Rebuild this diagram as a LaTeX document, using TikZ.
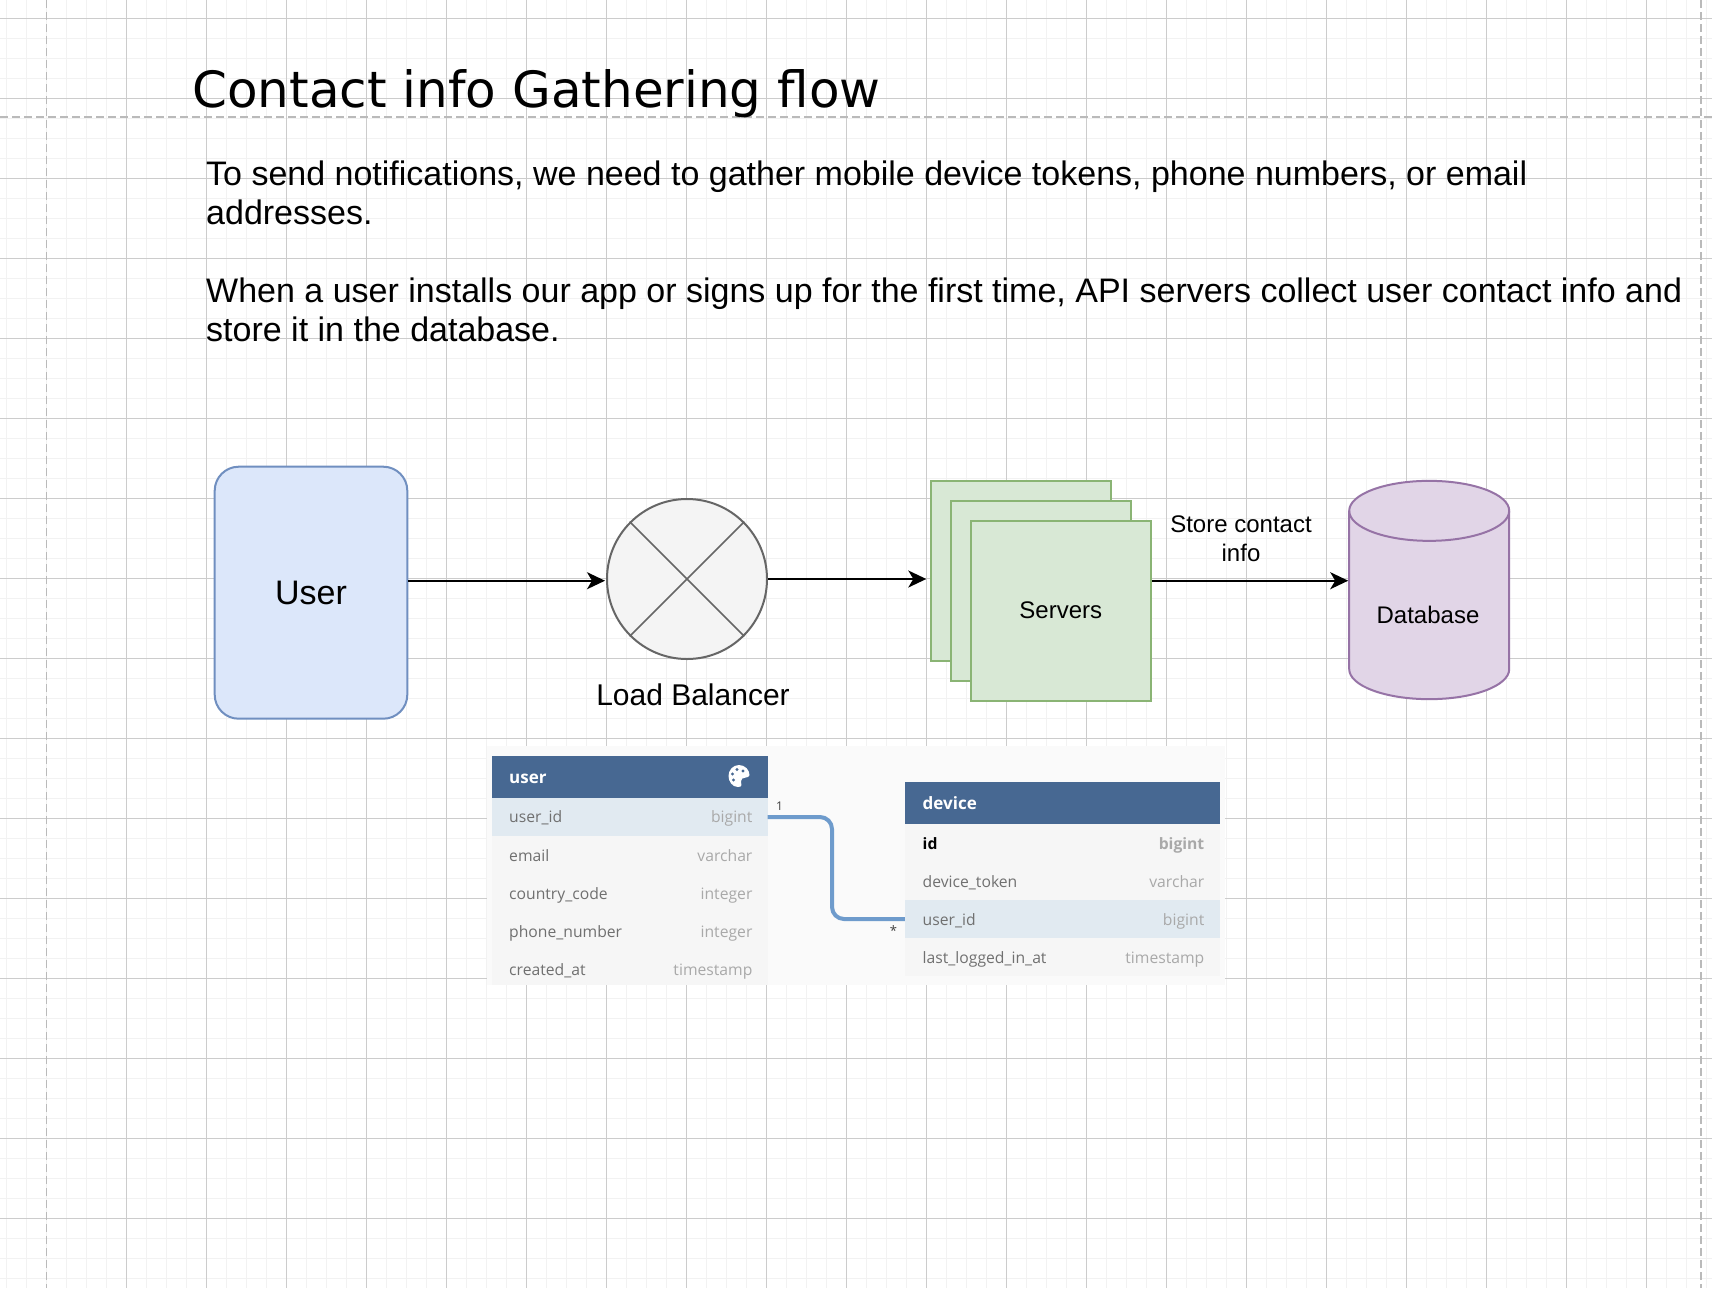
\documentclass[tikz,border=0pt]{standalone}
\usepackage{fontspec}
\setmainfont{Liberation Sans}
\newfontfamily\titlefont{DejaVu Sans}
\newfontfamily\tablefont{Open Sans}
\usetikzlibrary{arrows.meta}
\definecolor{userfill}{HTML}{DCE7FA}
\definecolor{userline}{HTML}{708FC0}
\definecolor{lbfill}{HTML}{F4F4F4}
\definecolor{lbline}{HTML}{666666}
\definecolor{srvfill}{HTML}{D8E8D5}
\definecolor{srvline}{HTML}{8AB474}
\definecolor{dbfill}{HTML}{E1D5E7}
\definecolor{dbline}{HTML}{9673A6}
\definecolor{tablehead}{HTML}{476892}
\definecolor{tablerow}{HTML}{F6F6F6}
\definecolor{tablekey}{HTML}{E1EAF1}
\definecolor{tabletext}{HTML}{707070}
\definecolor{tabletype}{HTML}{A9A9A9}
\definecolor{tablelink}{HTML}{6E9BCC}

\begin{document}
\begin{tikzpicture}[
  x=1pt, y=-1pt,
  usernode/.style={draw=userline, fill=userfill, line width=2pt, rounded corners=24pt,
                   minimum width=192.6pt, minimum height=252pt, font=\fontsize{34}{38}\selectfont},
  lbnode/.style={circle, draw=lbline, fill=lbfill, line width=2pt, minimum size=160pt, inner sep=0pt},
  crossline/.style={draw=lbline, line width=1.5pt},
  srvnode/.style={draw=srvline, fill=srvfill, line width=2pt, minimum size=180pt,
                  font=\fontsize{24}{29}\selectfont},
  dbnode/.style={minimum width=160pt, minimum height=218.3pt, inner sep=0pt, outer sep=0pt},
  dbshape/.style={draw=dbline, fill=dbfill, line width=2pt},
  flow/.style={line width=2pt, shorten >=1pt, -{Stealth[length=18pt,width=17pt,inset=5pt]}},
  label24/.style={font=\fontsize{24}{29}\selectfont, align=center, inner sep=0pt},
  headrow/.style={fill=tablehead, minimum height=42pt, inner sep=0pt},
  plainrow/.style={fill=tablerow, minimum height=38pt, inner sep=0pt},
  keyrow/.style={fill=tablekey, minimum height=38pt, inner sep=0pt},
  headtext/.style={anchor=base west, inner sep=0pt, text=white, font=\tablefont\bfseries\fontsize{17}{20}\selectfont},
  fieldname/.style={anchor=base west, inner sep=0pt, text=tabletext, font=\tablefont\fontsize{15.7}{20}\selectfont},
  fieldtype/.style={anchor=base east, inner sep=0pt, text=tabletype, font=\tablefont\fontsize{15.7}{20}\selectfont},
]
\useasboundingbox (0,0) rectangle (1712,1288);
\fill[white] (0,0) rectangle (1712,1288);

% ── Grid ───────────────────────────────────────────────────────────────
\foreach \gx in {6.7,26.7,...,1712} \draw[draw=black!5, line width=1.5pt] (\gx,0) -- (\gx,1288);
\foreach \gy in {18.3,38.3,...,1288} \draw[draw=black!5, line width=1.5pt] (0,\gy) -- (1712,\gy);
\foreach \gx in {126.7,206.7,...,1712} \draw[draw=black!20, line width=1pt] (\gx,0) -- (\gx,1288);
\foreach \gy in {18.3,98.3,...,1288} \draw[draw=black!20, line width=1pt] (0,\gy) -- (1712,\gy);
\draw[draw=black!27, line width=1.5pt, dash pattern=on 8pt off 4pt] (0,117) -- (1712,117);
\draw[draw=black!27, line width=1.5pt, dash pattern=on 8pt off 4pt] (46.7,0) -- (46.7,1288);
\draw[draw=black!27, line width=1.5pt, dash pattern=on 8pt off 4pt] (1701,0) -- (1701,1288);

% ── Heading and notes ──────────────────────────────────────────────────
\node[anchor=base west, inner sep=0pt, font=\titlefont\fontsize{50}{58}\selectfont] (title) at (192,107)
  {Contact info Gathering flow};
\node[anchor=west, inner sep=0pt, align=left, font=\fontsize{34}{39}\selectfont] (note1) at (206,193)
  {To send notifications, we need to gather mobile device tokens, phone numbers, or email\\addresses.};
\node[anchor=west, inner sep=0pt, align=left, font=\fontsize{34}{39}\selectfont] (note2) at (206,310)
  {When a user installs our app or signs up for the first time, API servers collect user contact info and\\store it in the database.};

% ── Flow ───────────────────────────────────────────────────────────────
\node[usernode] (user) at (311,592.7) {User};
\node[lbnode] (lb) at (687,579) {};
\draw[crossline] (lb.45) -- (lb.225);
\draw[crossline] (lb.135) -- (lb.315);
\node[font=\fontsize{30}{36}\selectfont, inner sep=0pt] (lblabel) at (693,695) {Load Balancer};

\node[srvnode] (srvback) at (1020.8,570.7) {};
\node[srvnode] (srvmid) at (1040.8,590.7) {};
\node[srvnode] (srvfront) at (1060.8,610.7) {\raisebox{-1pt}{Servers}};

\node[dbnode] (db) at (1429.2,590) {};
\draw[dbshape] ([yshift=-30pt]db.north west) arc[start angle=180, end angle=0, x radius=80pt, y radius=30pt]
  -- ([yshift=30pt]db.south east) arc[start angle=0, end angle=-180, x radius=80pt, y radius=30pt] -- cycle;
\draw[dbshape, fill=none] ([yshift=-30pt]db.north west) arc[start angle=180, end angle=360, x radius=80pt, y radius=30pt];
\node[label24] (dblabel) at (1428,615) {Database};
\node[label24] (storelabel) at (1241,539) {Store contact\\info};

\draw[flow] ([yshift=12pt]user.east) -- ([yshift=-1.7pt]lb.west);
\draw[flow, shorten >=3.5pt] (lb.east) -- ([yshift=-8.3pt]srvback.west);
\draw[flow] ([yshift=30pt]srvfront.east) -- ([yshift=9.3pt]db.west);

% ── Left: user table ───────────────────────────────────────────────────
\fill[fill=black!2] (487,746) rectangle (1225,985);
\node[headrow, minimum width=275.5pt] (userhead) at (629.75,777) {};
\node[keyrow, minimum width=275.5pt] (userkey) at (629.75,817) {};
\node[plainrow, minimum width=275.5pt, minimum height=149pt] (userbody) at (629.75,910.5) {};

\node[headtext] (usertitle) at (509,783.5) {user};
\node[fieldname] (a1) at (509,822.7) {user\_id};
\node[fieldtype] (a2) at (752.6,822.7) {bigint};
\node[fieldname] (b1) at (509,861.2) {email};
\node[fieldtype] (b2) at (752.6,861.2) {varchar};
\node[fieldname] (c1) at (509,899.5) {country\_code};
\node[fieldtype] (c2) at (752.6,899.5) {integer};
\node[fieldname] (d1) at (509,937.5) {phone\_number};
\node[fieldtype] (d2) at (752.6,937.5) {integer};
\node[fieldname] (e1) at (509,975.5) {created\_at};
\node[fieldtype] (e2) at (752.6,975.5) {timestamp};

% palette icon
\fill[white] (739,765) .. controls (745,765) and (749.5,770) .. (749.5,775)
  .. controls (749.5,779) and (741,776) .. (741,781) .. controls (741,784) and (743,787) .. (738,787)
  .. controls (732,787) and (728.5,781) .. (728.5,776) .. controls (728.5,770) and (733,765) .. (739,765) -- cycle;
\fill[tablehead] (737,769.5) circle[radius=1.7pt] (743,771) circle[radius=1.7pt]
  (732.5,774) circle[radius=1.7pt] (733.5,780) circle[radius=1.7pt];

% ── Right: device table ────────────────────────────────────────────────
\node[headrow, minimum width=315pt] (devhead) at (1062.5,803.3) {};
\node[plainrow, minimum width=315pt, minimum height=76pt] (devbody) at (1062.5,862) {};
\node[keyrow, minimum width=315pt] (devkey) at (1062.5,919) {};
\node[plainrow, minimum width=315pt] (devlast) at (1062.5,957) {};

\node[headtext] (devtitle) at (922.5,809) {device};
\node[fieldname, text=black, font=\tablefont\bfseries\fontsize{15.7}{20}\selectfont] (f1) at (922.5,849.5) {id};
\node[fieldtype, font=\tablefont\bfseries\fontsize{15.7}{20}\selectfont] (f2) at (1204.5,849.5) {bigint};
\node[fieldname] (g1) at (922.5,887.5) {device\_token};
\node[fieldtype] (g2) at (1204.5,887.5) {varchar};
\node[fieldname] (h1) at (922.5,925.5) {user\_id};
\node[fieldtype] (h2) at (1204.5,925.5) {bigint};
\node[fieldname] (i1) at (922.5,963.5) {last\_logged\_in\_at};
\node[fieldtype] (i2) at (1204.5,963.5) {timestamp};

% ── Link between tables ────────────────────────────────────────────────
\coordinate (linkbend) at (832,868);
\draw[draw=tablelink, line width=4pt, rounded corners=12pt] (userkey.east) -| (linkbend) |- (devkey.west);
\node[inner sep=0pt, text=black!75, font=\tablefont\fontsize{12}{14}\selectfont] (one) at (779.5,806) {1};
\node[inner sep=0pt, text=black!75, font=\tablefont\fontsize{13}{14}\selectfont] (many) at (893.5,931) {*};

\end{tikzpicture}
\end{document}
